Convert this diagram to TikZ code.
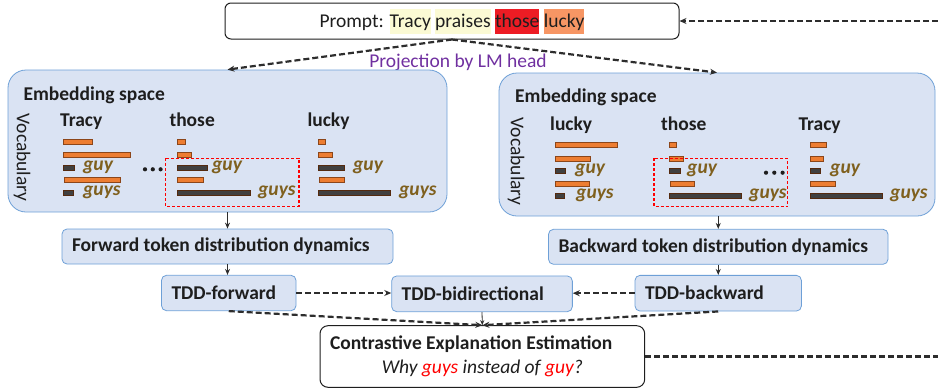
\documentclass[tikz,border=0pt]{standalone}
\usepackage{fontspec}
\setmainfont{Carlito}
\usetikzlibrary{arrows.meta,calc}
\definecolor{boxfill}{RGB}{218,227,243}
\definecolor{boxline}{RGB}{110,160,215}
\definecolor{obarc}{RGB}{237,125,49}
\definecolor{obard}{RGB}{140,70,25}
\definecolor{dbarc}{RGB}{64,64,64}
\definecolor{guyc}{RGB}{127,96,30}
\definecolor{arrc}{RGB}{45,45,45}
\definecolor{projc}{RGB}{112,48,160}
\definecolor{hlyel}{RGB}{251,250,212}
\definecolor{hlred}{RGB}{237,28,36}
\definecolor{hlora}{RGB}{247,150,100}
\definecolor{wred}{RGB}{255,0,0}
\definecolor{txtc}{RGB}{30,30,30}
\newcommand\hlw[2]{{\setlength{\fboxsep}{0pt}\colorbox{#1}{\rule[-6pt]{0pt}{25pt}#2}}}
\newcommand\hb[4]{\draw[#1] (#2,#4-2.5) rectangle (#3,#4+2.5);}
\begin{document}
\begin{tikzpicture}[x=1pt,y=-1pt,
  every node/.style={font=\fontsize{19.5}{23}\selectfont, text=txtc},
  embbox/.style={draw=boxline, fill=boxfill, rounded corners=18pt, line width=0.8pt, inner sep=0pt},
  stagebox/.style={draw=boxline, fill=boxfill, rounded corners=5pt, line width=0.8pt, inner xsep=10pt, inner ysep=0pt, font=\bfseries\fontsize{19.5}{23}\selectfont},
  obar/.style={fill=obarc, draw=obard, line width=0.5pt},
  dbar/.style={fill=dbarc, draw=obard!60!black, line width=0.5pt},
  guylab/.style={anchor=base west, inner sep=0pt, text=guyc, font=\bfseries\itshape\fontsize{19.5}{23}\selectfont},
  hdr/.style={anchor=base west, inner sep=0pt, font=\bfseries\fontsize{19.5}{23}\selectfont},
  dasharr/.style={draw=arrc, dash pattern=on 6pt off 3pt, line width=2.2pt, -{Stealth[length=7pt,width=6pt]}},
  dashline/.style={draw=arrc, dash pattern=on 6pt off 3pt, line width=2.2pt},
  solarr/.style={draw=arrc, line width=1.5pt, -{Stealth[length=6pt,width=5pt]}},
  thinarr/.style={draw=arrc, line width=0.8pt, -{Stealth[length=5pt,width=4pt]}},
  selbox/.style={draw=wred, dash pattern=on 3pt off 2pt, line width=1.2pt},
  dotc/.style={fill=txtc, draw=none}]
\useasboundingbox (0,0) rectangle (938,389);
\coordinate (redge) at (938,0);

% prompt
\node[draw=txtc, fill=white, rounded corners=6pt, line width=1pt, minimum width=454pt, minimum height=36pt, inner sep=0pt] (prompt) at (452,21)
  {Prompt: \hlw{hlyel}{Tracy} \hlw{hlyel}{praises} \hlw{hlred}{those} \hlw{hlora}{lucky}};
\node[text=projc] (proj) at (458,62) {Projection by LM head};

% embedding boxes
\node[embbox, minimum width=439pt, minimum height=142pt] (embL) at (227.5,141) {};
\node[embbox, minimum width=436pt, minimum height=143pt] (embR) at (717,144.5) {};

% left box content
\node[hdr] (esL) at (23.3,100) {Embedding space};
\node[rotate=-90, inner sep=0pt] (vocL) at (22,157.5) {Vocabulary};
\node[hdr] (hL1) at (60,126) {Tracy};
\node[hdr] (hL2) at (169.3,126) {those};
\node[hdr] (hL3) at (307.3,126) {lucky};

\hb{obar}{63.3}{92.3}{141.7}
\hb{obar}{63.3}{130.7}{155}
\hb{dbar}{63.3}{74.3}{167.7}
\hb{obar}{64}{120.7}{179.3}
\hb{dbar}{63.3}{73.3}{192.3}
\node[guylab] (gL1) at (83,170.7) {guy};
\node[guylab] (gsL1) at (83,195.3) {guys};

\hb{obar}{177.7}{185}{141.7}
\hb{obar}{177.7}{191.7}{155}
\hb{dbar}{177.7}{207.3}{167.7}
\hb{obar}{177.7}{203.3}{179.3}
\hb{dbar}{177.7}{250}{192.3}
\node[guylab] (gL2) at (212,170.7) {guy};
\node[guylab] (gsL2) at (258,195.3) {guys};
\fill[dotc] (145,169.3) circle (2.1) (152.8,169.3) circle (2.1) (160.6,169.3) circle (2.1);
\draw[selbox] (165.7,158.3) rectangle (299,206.7);

\hb{obar}{318.3}{325}{141.7}
\hb{obar}{318.3}{332.7}{155}
\hb{dbar}{318.3}{344}{167.7}
\hb{obar}{319.3}{344}{179.3}
\hb{dbar}{318.3}{390.7}{192.3}
\node[guylab] (gL3) at (353,170.7) {guy};
\node[guylab] (gsL3) at (399,195.3) {guys};

% right box content
\node[hdr] (esR) at (515,102.3) {Embedding space};
\node[rotate=-90, inner sep=0pt] (vocR) at (516,161.7) {Vocabulary};
\node[hdr] (hR1) at (550,130) {lucky};
\node[hdr] (hR2) at (661,130) {those};
\node[hdr] (hR3) at (798.3,130) {Tracy};

\hb{obar}{555}{617.7}{145}
\hb{obar}{555}{590.7}{158.3}
\hb{dbar}{555}{565.7}{170.7}
\hb{obar}{555.7}{589.3}{183.3}
\hb{dbar}{555}{564.3}{195.7}
\node[guylab] (gR1) at (575,173.7) {guy};
\node[guylab] (gsR1) at (576,198.7) {guys};

\hb{obar}{669.3}{676.7}{145}
\hb{obar}{669.3}{683.3}{158.3}
\hb{dbar}{669.3}{680}{170.7}
\hb{obar}{670}{694.3}{183.3}
\hb{dbar}{669.3}{741.7}{195.7}
\node[guylab] (gR2) at (687,173.7) {guy};
\node[guylab] (gsR2) at (749,198.7) {guys};
\fill[dotc] (766,172.7) circle (2.1) (774.3,172.7) circle (2.1) (782.6,172.7) circle (2.1);
\draw[selbox] (654,158.3) rectangle (787.7,206.7);

\hb{obar}{810}{826}{145}
\hb{obar}{810}{823.3}{158.3}
\hb{dbar}{810}{820}{170.7}
\hb{obar}{810.7}{835}{183.3}
\hb{dbar}{810}{882.3}{195.7}
\node[guylab] (gR3) at (830,173.7) {guy};
\node[guylab] (gsR3) at (890,198.7) {guys};

% stage boxes
\node[stagebox, minimum height=35pt] (fwd) at (227.5,246.5) {\makebox[311pt][l]{Forward token distribution dynamics}};
\node[stagebox, minimum height=35pt] (bwd) at (718.25,246.8) {\makebox[319.5pt][l]{Backward token distribution dynamics}};
\node[stagebox, minimum height=35.4pt] (tddf) at (228.75,293) {\makebox[114.5pt][l]{TDD-forward}};
\node[stagebox, minimum height=35.7pt] (tddbi) at (482,293.8) {\makebox[160.7pt][l]{TDD-bidirectional}};
\node[stagebox, minimum height=35.7pt] (tddb) at (718.2,293.2) {\makebox[146.4pt][l]{TDD-backward}};
\node[draw=txtc, fill=white, rounded corners=8pt, line width=1pt, inner xsep=10pt, inner ysep=0pt, minimum height=61.6pt, align=left] (ce) at (482.35,356.5)
  {\makebox[304.7pt][l]{\bfseries Contrastive Explanation Estimation}\\[1.3pt]\makebox[304.7pt][c]{\itshape Why \textcolor{wred}{guys} instead of \textcolor{wred}{guy}?}};

% connectors
\draw[dasharr] (prompt.east -| redge) -- (prompt.east);
\draw[dasharr] (prompt.south) -- (embL.north);
\draw[dasharr] (prompt.south) -- (embR.north);
\draw[solarr] (embL.south -| fwd.north) -- (fwd.north);
\draw[solarr] (embR.south -| bwd.north) -- (bwd.north);
\draw[solarr] (fwd.south) -- (fwd.south |- tddf.north);
\draw[solarr] (bwd.south) -- (bwd.south |- tddb.north);
\draw[dasharr] (tddf.east) -- (tddf.east -| tddbi.west);
\draw[dasharr] (tddb.west) -- (tddb.west -| tddbi.east);
\draw[thinarr] (tddbi.south) -- (ce.north);
\draw[dasharr] (tddf.south) -- (ce.north);
\draw[dasharr] (tddb.south) -- (ce.north);
\draw[dashline] (ce.east) -- (ce.east -| redge);
\end{tikzpicture}
\end{document}
